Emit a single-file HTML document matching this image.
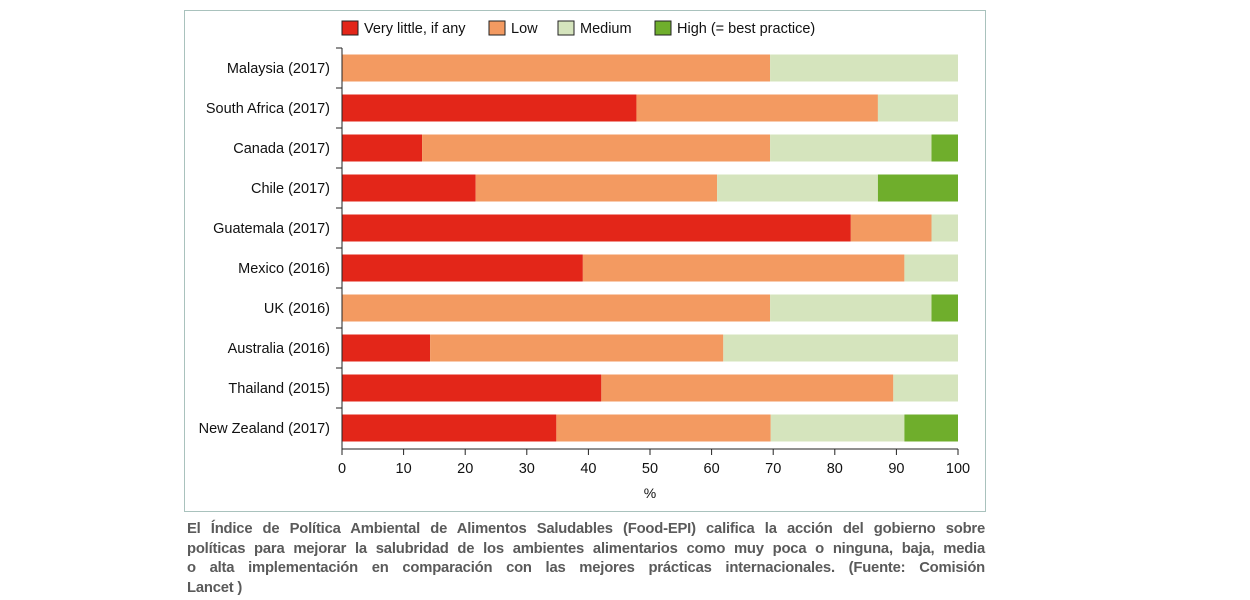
<!DOCTYPE html>
<html><head><style>
body{margin:0;width:1250px;height:600px;background:#fff;overflow:hidden;position:relative;font-family:"Liberation Sans",sans-serif}
.cap{position:absolute;left:187px;top:520px;width:798px;font-weight:bold;font-size:14.8px;line-height:19.5px;color:#5a5a5a}
.cap div{text-align:justify;text-align-last:justify;white-space:nowrap;letter-spacing:-0.2px}
.cap div.l{text-align-last:left}
</style></head><body>
<svg width="1250" height="520" style="position:absolute;left:0;top:0" font-family="Liberation Sans, sans-serif">
<rect x="184.5" y="10.5" width="801" height="501" fill="none" stroke="#a9c2bd" stroke-width="1"/>
<g font-size="14.5" fill="#111">
<rect x="342" y="21" width="16" height="14" fill="#e32619" stroke="#222"/><text x="364" y="33">Very little, if any</text>
<rect x="489" y="21" width="16" height="14" fill="#f39a61" stroke="#222"/><text x="511" y="33">Low</text>
<rect x="558" y="21" width="16" height="14" fill="#d5e4bd" stroke="#222"/><text x="580" y="33">Medium</text>
<rect x="655" y="21" width="16" height="14" fill="#6fae2c" stroke="#222"/><text x="677" y="33">High (= best practice)</text>
</g>
<g id="bars"></g>
<line x1="342" y1="48" x2="342" y2="449" stroke="#222"/>
<line x1="342" y1="449" x2="958" y2="449" stroke="#222"/>
<g id="ticks" font-size="14.5" fill="#111" text-anchor="middle"></g>
<text x="650" y="498" font-size="14" text-anchor="middle" fill="#111">%</text>
</svg>
<div class="cap">
<div>El Índice de Política Ambiental de Alimentos Saludables (Food-EPI) califica la acción del gobierno sobre</div>
<div>políticas para mejorar la salubridad de los ambientes alimentarios como muy poca o ninguna, baja, media</div>
<div>o alta implementación en comparación con las mejores prácticas internacionales. (Fuente: Comisión</div>
<div class="l">Lancet )</div>
</div>
<script>
var d=[["Malaysia (2017)",0,69.5,100,100],["South Africa (2017)",47.8,87,100,100],["Canada (2017)",13,69.5,95.7,100],["Chile (2017)",21.7,60.9,87,100],["Guatemala (2017)",82.6,95.7,100,100],["Mexico (2016)",39.1,91.3,100,100],["UK (2016)",0,69.5,95.7,100],["Australia (2016)",14.3,61.9,100,100],["Thailand (2015)",42.1,89.5,100,100],["New Zealand (2017)",34.8,69.6,91.3,100]];
var c=["#e32619","#f39a61","#d5e4bd","#6fae2c"],s="";
function X(v){return 342+v*6.16}
d.forEach(function(r,i){var cy=68+i*40,p=0;
for(var k=0;k<4;k++){var v=r[k+1];if(v>p)s+='<rect x="'+X(p)+'" y="'+(cy-13.5)+'" width="'+(X(v)-X(p))+'" height="27" fill="'+c[k]+'"/>';p=v;}
s+='<text x="330" y="'+(cy+5)+'" font-size="14.5" text-anchor="end" fill="#111">'+r[0]+'</text>';
s+='<line x1="336" x2="342" y1="'+(cy-20)+'" y2="'+(cy-20)+'" stroke="#222"/>';});
document.getElementById("bars").innerHTML=s;
var t="";for(var v=0;v<=100;v+=10){t+='<line x1="'+X(v)+'" x2="'+X(v)+'" y1="449" y2="455" stroke="#222"/><text x="'+X(v)+'" y="473">'+v+'</text>';}
document.getElementById("ticks").innerHTML=t;
</script>
</body></html>
